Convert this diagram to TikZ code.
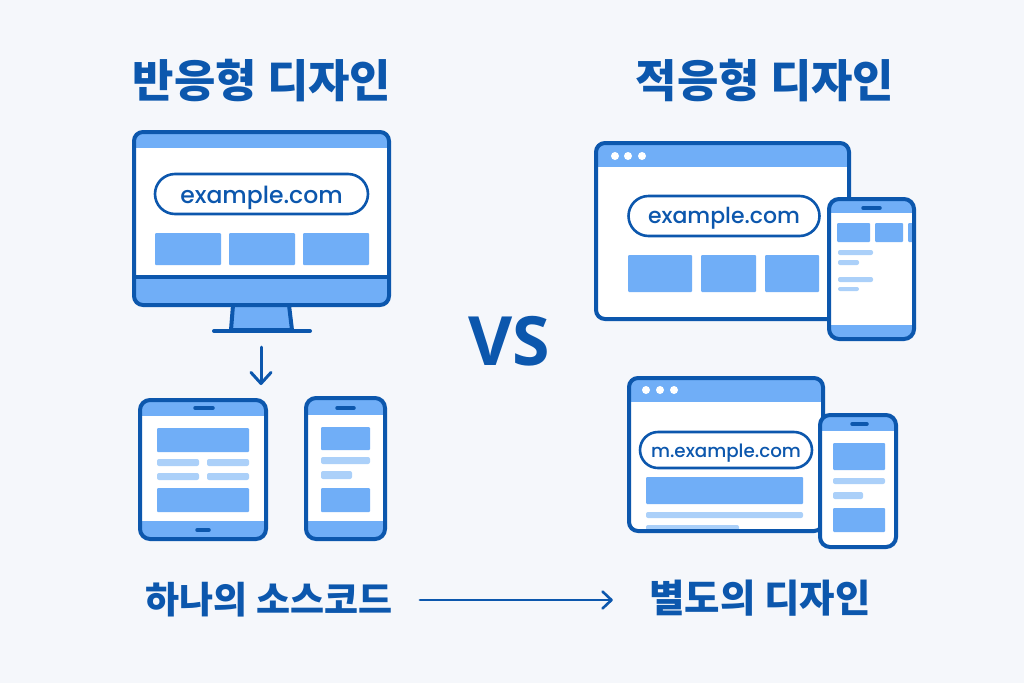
\documentclass[tikz,border=0pt]{standalone}
\usepackage{fontspec}
\newfontfamily\korfont{Noto Sans CJK KR}
\newfontfamily\urlfont{Poppins Medium}
\newfontfamily\vsfont{Open Sans}
\usetikzlibrary{arrows.meta}
\definecolor{pagebg}{HTML}{F5F7FB}
\definecolor{bluedark}{HTML}{0C57AD}
\definecolor{bluemid}{HTML}{70AEF7}
\definecolor{bluepale}{HTML}{ABD0F9}
\tikzset{
    frame/.style={draw=bluedark,line width=4pt},
    pill/.style={draw=bluedark,line width=2.6pt,fill=white,rounded corners=20pt},
    block/.style={fill=bluemid,rounded corners=1pt},
    line/.style={fill=bluepale,rounded corners=2pt},
    notch/.style={draw=bluedark,line width=3.5pt,line cap=round},
    title/.style={font=\korfont\bfseries\fontsize{45}{45}\selectfont,text=bluedark},
    caption/.style={font=\korfont\bfseries\fontsize{37}{37}\selectfont,text=bluedark},
    url/.style={text=bluedark,inner sep=0pt,text depth=0pt}
}
\begin{document}
\begin{tikzpicture}[x=1pt,y=-1pt,>={Straight Barb[round,length=9pt,width=17pt]}]
    \useasboundingbox[fill=pagebg] (0,0) rectangle (1024,683);
    % titles
    \node[title] (responsive) at (262,81) {반응형 디자인};
    \node[title] (adaptive) at (765,81) {적응형 디자인};
    \node[font=\vsfont\bfseries\fontsize{68}{68}\selectfont,text=bluedark] (versus) at (509,341) {VS};
    % monitor
    \filldraw[frame,fill=bluemid,line join=round] (233,305) -- (231,330) -- (292,330) -- (289,305);
    \draw[frame,line cap=round] (214,331) -- (310,331);
    \fill[white,rounded corners=9pt] (134,132) rectangle (389,305);
    \begin{scope}
        \clip[rounded corners=9pt] (134,132) rectangle (389,305);
        \fill[bluemid] (134,132) rectangle (389,148);
        \fill[bluemid] (134,277) rectangle (389,305);
    \end{scope}
    \draw[bluedark,line width=3.5pt] (134,277) -- (389,277);
    \draw[frame,rounded corners=9pt] (134,132) rectangle (389,305);
    \node[pill,url,minimum width=213pt,minimum height=40pt,text height=18pt,font=\urlfont\fontsize{23.5}{23.5}\selectfont] (deskurl) at (261.5,194) {example.com};
    \foreach \x in {155,229,303}
        \fill[block] (\x,233) rectangle ++(66,32);
    % arrow under the monitor
    \coordinate (downtop) at (261,347);
    \coordinate (downend) at (261,385);
    \draw[->,>={Straight Barb[round,length=11pt,width=20pt]},bluedark,line width=3pt,line cap=round] (downtop) -- (downend);
    % tablet
    \fill[white,rounded corners=10pt] (140,400) rectangle (266,539);
    \begin{scope}
        \clip[rounded corners=10pt] (140,400) rectangle (266,539);
        \fill[bluemid] (140,400) rectangle (266,416);
        \fill[bluemid] (140,521) rectangle (266,539);
    \end{scope}
    \draw[frame,rounded corners=10pt] (140,400) rectangle (266,539);
    \draw[notch] (195,408) -- (213,408);
    \draw[notch] (197,530) -- (209,530);
    \fill[block] (157,428) rectangle (249,452);
    \fill[block] (157,488) rectangle (249,512);
    \foreach \y in {459,473} {
        \fill[line] (157,\y) rectangle ++(42,7);
        \fill[line] (207,\y) rectangle ++(42,7);
    }
    % phone
    \fill[white,rounded corners=10pt] (306,398) rectangle (385,539);
    \begin{scope}
        \clip[rounded corners=10pt] (306,398) rectangle (385,539);
        \fill[bluemid] (306,398) rectangle (385,415);
        \fill[bluemid] (306,521) rectangle (385,539);
    \end{scope}
    \draw[frame,rounded corners=10pt] (306,398) rectangle (385,539);
    \draw[notch] (337,408) -- (354,408);
    \fill[block] (321,427) rectangle (370,450);
    \fill[line] (321,457) rectangle (370,464);
    \fill[line] (321,471) rectangle (352,479);
    \fill[block] (321,488) rectangle (370,512);
    % first browser
    \fill[white,rounded corners=9pt] (596,143) rectangle (849,319);
    \begin{scope}
        \clip[rounded corners=9pt] (596,143) rectangle (849,319);
        \fill[bluemid] (596,143) rectangle (849,167);
    \end{scope}
    \draw[frame,rounded corners=9pt] (596,143) rectangle (849,319);
    \foreach \x in {615,628,642}
        \fill[white] (\x,156) circle (4pt);
    \node[pill,url,minimum width=191pt,minimum height=40pt,text height=15.5pt,font=\urlfont\fontsize{22}{22}\selectfont] (wideurl) at (724,216) {example.com};
    \fill[block] (628,255) rectangle (692,292);
    \fill[block] (701,255) rectangle (756,292);
    \fill[block] (765,255) rectangle (819,292);
    % phone beside it
    \fill[white,rounded corners=10pt] (829,199) rectangle (914,339);
    \begin{scope}
        \clip[rounded corners=10pt] (829,199) rectangle (914,339);
        \fill[bluemid] (829,199) rectangle (914,213);
        \fill[bluemid] (829,325) rectangle (914,339);
        \fill[block] (837,223) rectangle (870,242);
        \fill[block] (875,223) rectangle (903,242);
        \fill[block] (908,223) rectangle (914,242);
    \end{scope}
    \draw[frame,rounded corners=10pt] (829,199) rectangle (914,339);
    \draw[notch] (863,208) -- (880,208);
    \fill[line] (838,250) rectangle (873,255);
    \fill[line] (838,260) rectangle (859,265);
    \fill[line] (838,277) rectangle (873,282);
    \fill[line] (838,287) rectangle (859,291);
    % second browser
    \fill[white,rounded corners=9pt] (629,378) rectangle (823,531);
    \begin{scope}
        \clip[rounded corners=9pt] (629,378) rectangle (823,531);
        \fill[bluemid] (629,378) rectangle (823,402);
        \fill[line] (646,525) rectangle (739,540);
    \end{scope}
    \draw[frame,rounded corners=9pt] (629,378) rectangle (823,531);
    \foreach \x in {646,660,674}
        \fill[white] (\x,390) circle (4pt);
    \node[pill,url,minimum width=172pt,minimum height=36pt,rounded corners=18pt,text height=14pt,font=\urlfont\fontsize{18.3}{18.3}\selectfont] (mobileurl) at (726,450) {m.example.com};
    \fill[block] (646,477) rectangle (803,504);
    \fill[line] (646,512) rectangle (803,518);
    % phone beside it
    \fill[white,rounded corners=10pt] (820,415) rectangle (896,547);
    \begin{scope}
        \clip[rounded corners=10pt] (820,415) rectangle (896,547);
        \fill[bluemid] (820,415) rectangle (896,431);
    \end{scope}
    \draw[frame,rounded corners=10pt] (820,415) rectangle (896,547);
    \draw[notch] (852,424) -- (867,424);
    \fill[block] (833,443) rectangle (885,470);
    \fill[line] (833,478) rectangle (885,484);
    \fill[line] (833,492) rectangle (863,499);
    \fill[block] (833,508) rectangle (885,532);
    % captions
    \node[caption] (onesource) at (269,600) {하나의 소스코드};
    \node[caption,font=\korfont\bfseries\fontsize{38.5}{38.5}\selectfont] (separate) at (760,598) {별도의 디자인};
    \draw[->,bluedark,line width=2.6pt,line cap=round,shorten <=24pt,shorten >=33pt] (onesource.east) -- (onesource.east -| separate.west);
\end{tikzpicture}
\end{document}
